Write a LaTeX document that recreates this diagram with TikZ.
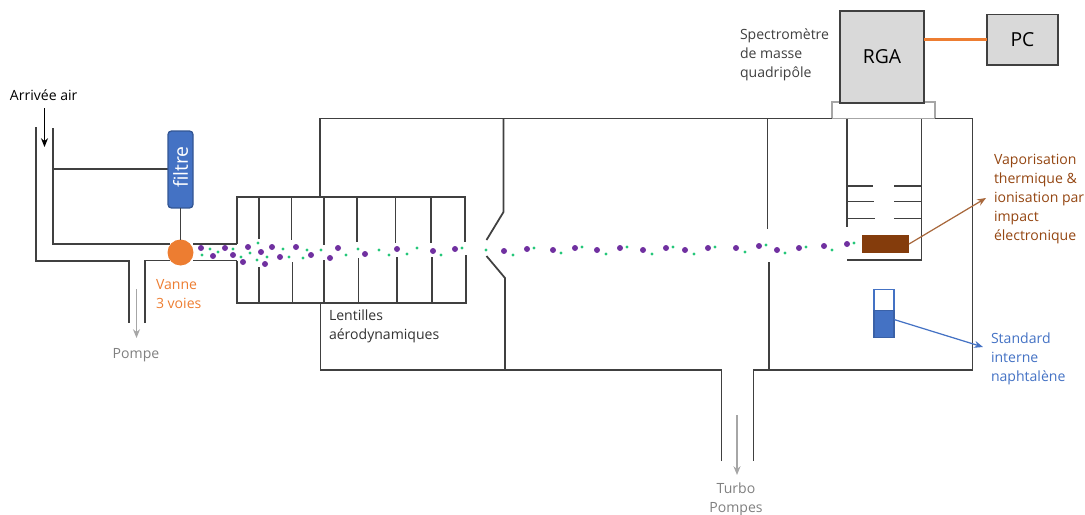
\documentclass[tikz,border=0pt]{standalone}
\usepackage{fontspec}
\setmainfont{Open Sans}
\usepackage{tikz}
\usetikzlibrary{arrows.meta}
\definecolor{wall}{HTML}{404040}
\definecolor{orangeV}{HTML}{ED7D31}
\definecolor{blueS}{HTML}{4472C4}
\definecolor{brownB}{HTML}{843C0C}
\definecolor{brownA}{HTML}{A8683C}
\definecolor{purpleP}{HTML}{7030A0}
\definecolor{greenP}{HTML}{25C77A}
\definecolor{grayB}{HTML}{D9D9D9}
\definecolor{grayT}{HTML}{808080}
\tikzset{
  wallline/.style={draw=wall,line width=1pt},
  txt/.style={inner sep=0pt,outer sep=0pt,align=left,font=\fontsize{8}{10.8}\selectfont},
  box/.style={draw=wall,fill=grayB,line width=0.85pt,inner sep=0pt,outer sep=0pt,font=\fontsize{11}{13}\selectfont}
}

\begin{document}
\begin{tikzpicture}[x=0.02cm,y=-0.02cm]
\useasboundingbox (0,0) rectangle (1085,514);

% arrivee et pompe
\draw[wallline] (36,127)--(36,261)--(129,261)--(129,323);
\draw[wallline] (53,128)--(53,244)--(170,244);
\draw[wallline] (145,323)--(145,260.5)--(170,260.5);
\draw[wallline] (53,169)--(168,169);
\draw[wallline] (193,244)--(237,244);
\draw[wallline] (193,260.5)--(237,260.5);

% lentilles
\draw[wallline] (237,244)--(237,197)--(465,197)--(465,242);
\draw[wallline] (237,260.5)--(237,303)--(466,303)--(466,255);
\foreach \xa/\ya/\xb/\yb in {259/239/259/267,291.5/240/292.5/262,324/245/324/260,357/242/358.5/258,395.5/243/397/257,431/243/432/257}{
  \draw[wallline] (\xa,197)--(\xa,\ya);
  \draw[wallline] (\xb,\yb)--(\xb,303);
}

% enceinte
\draw[draw=gray!70,line width=0.75pt] (832,118.5)--(832,102)--(935,102)--(935,118.5)--cycle;
\draw[wallline] (320,197)--(320,118.5)--(832,118.5);
\draw[wallline] (935,118.5)--(972.5,118.5)--(972.5,370)--(753.5,370)--(753.5,461);
\draw[wallline] (721.5,461)--(721.5,370)--(320.5,370)--(320.5,303);
\draw[wallline] (503.5,118.5)--(503.5,212)--(486.5,240);
\draw[wallline] (486.5,256)--(505,278)--(505,370);
\draw[wallline] (767.5,118.5)--(767.5,229);
\draw[wallline] (769,262)--(769,370);

% source
\draw[wallline] (847,118.5)--(847,227);
\draw[wallline] (847,260)--(921.5,260)--(921.5,118.5);
\foreach \y/\xl in {186/873,201.5/874,218.5/875}{
  \draw[wallline] (847,\y)--(\xl,\y);
  \draw[wallline] (894,\y)--(921.5,\y);
}

% particules
\foreach \x/\y in {201/248,213/256,225/248,233/255,243/262,248/247,261/252,272/247,265/264,280/257,296/247,311/255,330/258,338/248,365/254,397/249,433/251,455/249,504/251,527/249,553/250,575/248,597/250,620/248,643/250,666/248,685/250,708/248,736/248,759/246,777/250,799/248,824/246,847/244}{
  \fill[purpleP] (\x,\y) circle (3);
}
\foreach \x/\y in {210/249,202/255,218/252,233/249,241/257,250/253,258/243,257/260,267/257,283/249,289/257,303/258,307/250,321/250,346/255,358/249,379/250,389/255,407/254,417/248,441/255,462/248,486/250,513/255,534/248,561/253,582/247,606/254,627/247,652/254,673/247,694/254,715/247,745/252,766/245,785/253,806/247,832/250,854/243}{
  \fill[greenP] (\x,\y) circle (1.7);
}

% elements
\node[draw=blueS!75!black,fill=blueS,rounded corners=2pt,line width=0.75pt,minimum width=0.5cm,minimum height=1.54cm,inner sep=0pt,outer sep=0pt] (filtre) at (180.5,169.5) {};
\node[rotate=90,text=white,inner sep=0pt,font=\fontsize{11}{13}\selectfont] (filtretxt) at (180.5,167) {filtre};
\node[circle,fill=orangeV,minimum size=0.52cm,inner sep=0pt,outer sep=0pt] (vanne) at (180.5,252.5) {};
\draw[wallline] (filtre)--(vanne);

\node[box,minimum width=1.68cm,minimum height=1.84cm] (rga) at (882,57) {RGA};
\node[box,minimum width=1.42cm,minimum height=1.01cm] (pc) at (1022.5,39.7) {PC};
\draw[orangeV,line width=1.6pt] (rga.east |- pc)--(pc);

\node[fill=brownB,minimum width=0.94cm,minimum height=0.37cm,inner sep=0pt,outer sep=0pt] (four) at (885.5,244) {};
\coordinate (vapotip) at (986,198);
\draw[-{Stealth[length=5pt,width=4pt]},brownA,line width=0.7pt] (four.east)--(vapotip);

\node[draw=blueS,fill=white,line width=0.7pt,minimum width=0.4cm,minimum height=0.43cm,inner sep=0pt,outer sep=0pt] (flaconhaut) at (884,300) {};
\node[draw=blueS!85!black,fill=blueS,line width=0.7pt,minimum width=0.4cm,minimum height=0.54cm,inner sep=0pt,outer sep=0pt] (flaconbas) at (884,324) {};
\coordinate (standardtip) at (983,347);
\draw[-{Stealth[length=5pt,width=4pt]},blueS,line width=0.7pt] (flaconbas.east |- 0,319.5)--(standardtip);

% fleches
\coordinate (airA) at (44.5,108);
\coordinate (airB) at (44.5,147);
\draw[-{Stealth[length=5pt,width=4pt]},black,line width=0.7pt] (airA)--(airB);
\coordinate (pompeA) at (136.5,289);
\coordinate (pompeB) at (136.5,338);
\draw[-{Stealth[length=5pt,width=4pt]},gray!70,line width=0.7pt] (pompeA)--(pompeB);
\coordinate (turboA) at (737,415);
\coordinate (turboB) at (737,475);
\draw[-{Stealth[length=5pt,width=4pt]},gray!70,line width=0.7pt] (turboA)--(turboB);

% textes
\node[txt,anchor=west] (arrivee) at (10,95) {Arrivée air};
\node[txt,anchor=north west,text=orangeV] (vannetxt) at (156,279) {Vanne\\3 voies};
\node[txt,anchor=center,text=grayT] (pompe) at (136,355) {Pompe};
\node[txt,anchor=north west,text=black!80] (lentilles) at (329,310) {Lentilles\\aérodynamiques};
\node[txt,anchor=north west,text=black!75] (spectro) at (740,29) {Spectromètre\\de masse\\quadripôle};
\node[txt,anchor=north west,text=brownB!85!orangeV] (vapo) at (994,154) {Vaporisation\\thermique \&\\ionisation par\\impact\\électronique};
\node[txt,anchor=north west,text=blueS] (standard) at (991,333) {Standard\\interne\\naphtalène};
\node[txt,align=center,text=grayT] (turbo) at (736,499) {Turbo\\Pompes};
\end{tikzpicture}
\end{document}
